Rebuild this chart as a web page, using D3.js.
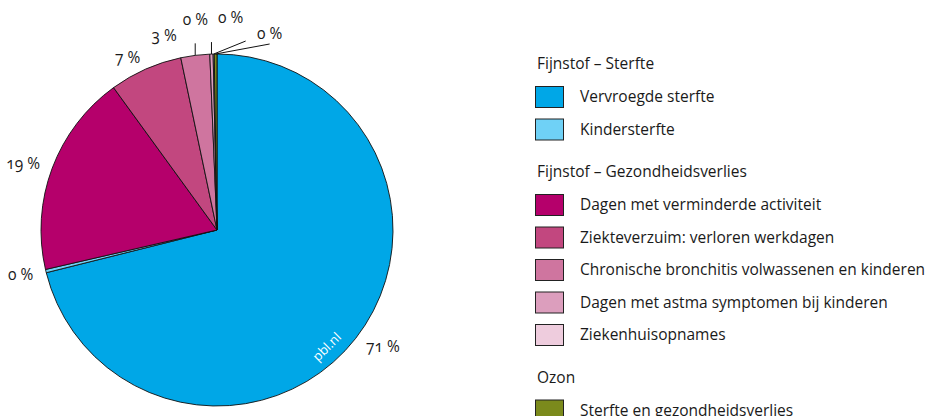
<!DOCTYPE html>
<html>
<head>
<meta charset="utf-8">
<script src="https://cdn.jsdelivr.net/npm/d3@7"></script>
<style>
  body { margin: 0; background: #fff; }
  svg text { font-family: "Open Sans", "Noto Sans", sans-serif; fill: #1a1a1a; }
  .num { font-variant-numeric: oldstyle-nums; font-feature-settings: "onum" 1; }
</style>
</head>
<body>
<div class="canvas"></div>
<script>
// slices, clockwise from 12 o'clock
const categories = [
  'Vervroegde sterfte',
  'Kindersterfte',
  'Dagen met verminderde activiteit',
  'Ziekteverzuim: verloren werkdagen',
  'Chronische bronchitis volwassenen en kinderen',
  'Dagen met astma symptomen bij kinderen',
  'Ziekenhuisopnames',
  'Sterfte en gezondheidsverlies'
];
const shares = [71.1, 0.3, 18.6, 6.7, 2.65, 0.3, 0.1, 0.25];
const colors = ['#00a7e7', '#6fd1f6', '#b5006b', '#c2477f', '#cf759f', '#dc9ebd', '#eeccdd', '#7b8a1c'];

// legend groups
const groupNames = ['Fijnstof – Sterfte', 'Fijnstof – Gezondheidsverlies', 'Ozon'];
const groupOf = [0, 0, 1, 1, 1, 1, 1, 2];

const W = 941, H = 416;
const cx = 217, cy = 230, R = 176;
const fs = '15.5px';

const svg = d3.select('.canvas').append('svg')
  .attr('width', W).attr('height', H);

const rows = categories.map((c, i) => ({ name: c, v: shares[i], color: colors[i], group: groupOf[i] }));

const pie = d3.pie().sort(null).value(d => d.v);
const arcs = pie(rows);
const arc = d3.arc().innerRadius(0).outerRadius(R);

const gPie = svg.append('g').attr('transform', `translate(${cx},${cy})`);

gPie.selectAll('path')
  .data(arcs)
  .enter()
  .append('path')
  .attr('d', arc)
  .attr('fill', d => d.data.color)
  .attr('stroke', '#111')
  .attr('stroke-width', 0.9)
  .attr('stroke-linejoin', 'round');

// watermark
gPie.append('text')
  .attr('transform', 'translate(113,120) rotate(-45)')
  .attr('text-anchor', 'middle')
  .style('font-size', '13px')
  .style('fill', '#fff')
  .text('pbl.nl');

//labels: small slices get a leader line, offsets in px
const callout = {
  'Chronische bronchitis volwassenen en kinderen': { line: [0, -12], label: [-31, -8] },
  'Dagen met astma symptomen bij kinderen': { line: [0, -12], label: [-16, -23] },
  'Ziekenhuisopnames': { line: [32, -13], label: [-15, -23] },
  'Sterfte en gezondheidsverlies': { line: [54, -10], label: [0, -10] }
};

const labelArc = d3.arc().innerRadius(189).outerRadius(189);
const edgeArc = d3.arc().innerRadius(R).outerRadius(R);

arcs.forEach(d => {
  const txt = `${Math.round(d.data.v)} %`;
  const c = callout[d.data.name];
  if (c) {
    const [x0, y0] = edgeArc.centroid(d);
    const x1 = x0 + c.line[0], y1 = y0 + c.line[1];
    gPie.append('line')
      .attr('x1', x0).attr('y1', y0)
      .attr('x2', x1).attr('y2', y1)
      .attr('stroke', '#111').attr('stroke-width', 1);
    gPie.append('text')
      .attr('class', 'num')
      .attr('x', x1 + c.label[0]).attr('y', y1 + c.label[1])
      .attr('dy', '0.35em')
      .attr('text-anchor', 'middle')
      .style('font-size', fs)
      .text(txt);
  } else {
    const [x, y] = labelArc.centroid(d);
    const mid = (d.startAngle + d.endAngle) / 2;
    gPie.append('text')
      .attr('class', 'num')
      .attr('x', x).attr('y', y)
      .attr('dy', '0.35em')
      .attr('text-anchor', Math.sin(mid) < 0 ? 'end' : 'start')
      .style('font-size', fs)
      .text(txt);
  }
});

// legend
const legend = svg.append('g').attr('transform', 'translate(535,0)');
let y = 64;
groupNames.forEach((g, gi) => {
  legend.append('text')
    .attr('x', 2).attr('y', y)
    .attr('dy', '0.35em')
    .style('font-size', fs)
    .text(g);
  y += 33;
  rows.filter(r => r.group === gi).forEach(r => {
    legend.append('rect')
      .attr('x', 0.5).attr('y', y - 10.5)
      .attr('width', 28).attr('height', 21)
      .attr('fill', r.color)
      .attr('stroke', '#222').attr('stroke-width', 1);
    legend.append('text')
      .attr('x', 45).attr('y', y)
      .attr('dy', '0.35em')
      .style('font-size', fs)
      .text(r.name);
    y += 32.5;
  });
  y += 10;
});
</script>
</body>
</html>
